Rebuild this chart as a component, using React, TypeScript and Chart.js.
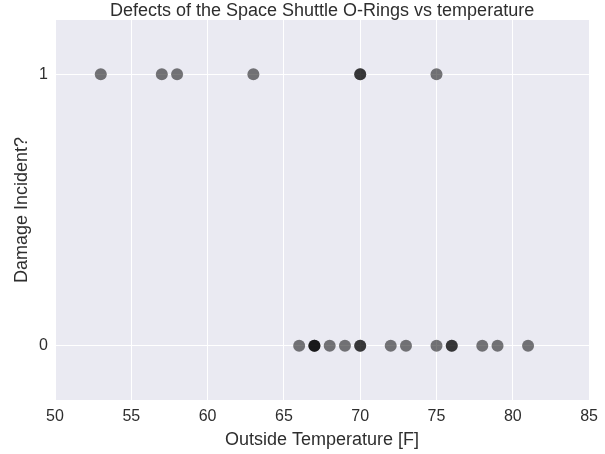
import React, { useEffect, useRef } from "react";
import { Chart, registerables } from "chart.js";

Chart.register(...registerables);

const temperatures = [66, 70, 69, 68, 67, 72, 73, 70, 57, 63, 70, 78, 67, 53, 67, 75, 70, 81, 76, 79, 75, 76, 58];
const damage = [0, 1, 0, 0, 0, 0, 0, 0, 1, 1, 1, 0, 0, 1, 0, 0, 0, 0, 0, 0, 1, 0, 1];
const yTicks = [0, 1];
const xTickStep = 5;

const FONT = "Liberation Sans, Arial, sans-serif";
const TEXT = "#2e2e2e";

const bgPlugin = {
  id: "bgPlugin",
  beforeDraw(chart: any) {
    const { ctx, chartArea } = chart;
    ctx.save();
    ctx.fillStyle = "#EAEAF2";
    ctx.fillRect(chartArea.left, chartArea.top, chartArea.right - chartArea.left, chartArea.bottom - chartArea.top);
    ctx.restore();
  },
};

export default function App() {
  const ref = useRef<HTMLCanvasElement>(null);
  useEffect(() => {
    document.body.style.margin = "0";
    const data = temperatures.map((t, i) => ({ x: t, y: damage[i] }));
    const chart = new Chart(ref.current!, {
      type: "scatter",
      data: {
        datasets: [
          {
            data,
            backgroundColor: "rgba(0,0,0,0.52)",
            borderWidth: 0,
            pointRadius: 6,
          },
        ],
      },
      plugins: [bgPlugin],
      options: {
        animation: false,
        responsive: false,
        layout: { padding: { right: 15, left: 0, top: 0, bottom: 0 } },
        plugins: {
          legend: { display: false },
          tooltip: { enabled: false },
          title: {
            display: true,
            fullSize: false,
            text: "Defects of the Space Shuttle O-Rings vs temperature",
            color: TEXT,
            font: { family: FONT, size: 18, weight: "normal", lineHeight: 1.0 },
            padding: { top: 2, bottom: 0 },
          },
        },
        scales: {
          x: {
            type: "linear",
            min: 50,
            max: 85,
            ticks: {
              stepSize: xTickStep,
              color: TEXT,
              padding: 7,
              font: { family: FONT, size: 16 },
            },
            grid: { color: "#ffffff", lineWidth: 1, drawTicks: false },
            border: { display: false },
            title: {
              display: true,
              text: "Outside Temperature [F]",
              color: TEXT,
              font: { family: FONT, size: 18 },
              padding: { top: 0, bottom: 3 },
            },
            afterFit(scale: any) {
              scale.height = 54;
            },
          },
          y: {
            type: "linear",
            min: -0.2,
            max: 1.2,
            afterBuildTicks(scale: any) {
              scale.ticks = yTicks.map((v) => ({ value: v }));
            },
            ticks: {
              color: TEXT,
              padding: 7,
              font: { family: FONT, size: 16 },
            },
            grid: { color: "#ffffff", lineWidth: 1, drawTicks: false },
            border: { display: false },
            title: {
              display: true,
              text: "Damage Incident?",
              color: TEXT,
              font: { family: FONT, size: 18 },
              padding: { top: 11, bottom: 0 },
            },
            afterFit(scale: any) {
              scale.width = 55;
            },
          },
        },
      },
    });
    return () => chart.destroy();
  }, []);
  return (
    <div style={{ width: 605, height: 454 }}>
      <canvas ref={ref} width={605} height={454} style={{ display: "block" }} />
    </div>
  );
}
